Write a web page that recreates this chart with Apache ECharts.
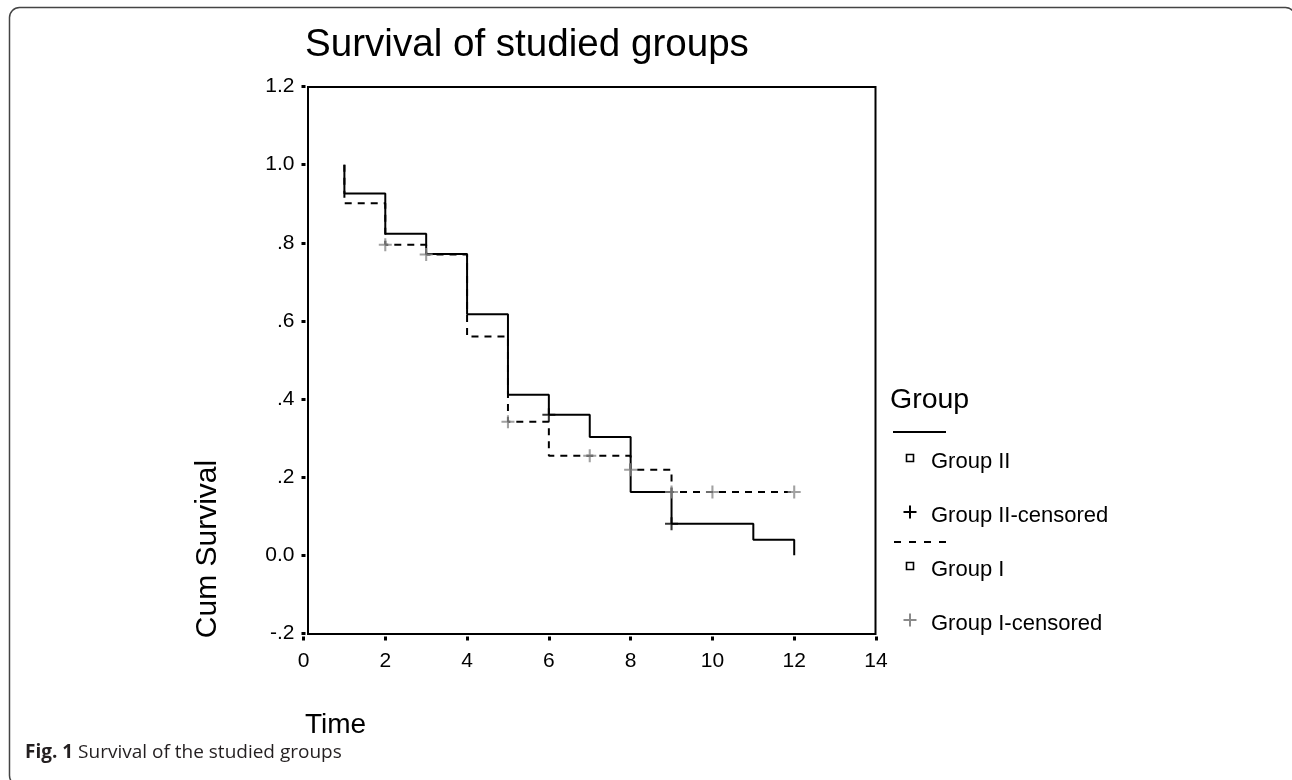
<!DOCTYPE html>
<html>
<head>
<meta charset="utf-8">
<script src="https://cdn.jsdelivr.net/npm/echarts@6/dist/echarts.min.js"></script>
<style>
html,body{margin:0;padding:0;background:#fff;}
#c{width:1292px;height:780px;}
</style>
</head>
<body>
<div id="c"></div>
<script>
// ---- data ----
const titleText = 'Survival of studied groups';
const xName = 'Time';
const yName = 'Cum Survival';
const caption = ['Fig. 1', 'Survival of the studied groups'];
const legendTitle = 'Group';
const legendLabels = ['Group II', 'Group II-censored', 'Group I', 'Group I-censored'];
const yTickLabels = ['-.2', '0.0', '.2', '.4', '.6', '.8', '1.0', '1.2'];

const timeII = [1, 1, 2, 3, 4, 5, 6, 7, 8, 9, 11, 12];
const survII = [1.0, 0.926, 0.823, 0.771, 0.617, 0.411, 0.360, 0.303, 0.162, 0.081, 0.040, 0];
const timeI = [1, 1, 2, 3, 4, 5, 6, 8, 9, 12];
const survI = [1.0, 0.901, 0.795, 0.770, 0.560, 0.342, 0.255, 0.219, 0.162, 0.162];
const censTimeII = [6, 9];
const censSurvII = [0.360, 0.081];
const censTimeI = [2, 3, 5, 7, 8, 9, 10, 12];
const censSurvI = [0.795, 0.770, 0.342, 0.255, 0.219, 0.162, 0.162, 0.162];

// ---- layout ----
const FONT = '"Liberation Sans", Arial, sans-serif';
const G = {left: 303.5, right: 416, top: 86.5, bottom: 146.5};
const plusPath = 'path://M4.2,0H5.8V4.2H10V5.8H5.8V10H4.2V5.8H0V4.2H4.2Z';
const zip = (a, b) => a.map((v, i) => [v, b[i]]);

const chart = echarts.init(document.getElementById('c'));

function plus(cx, cy, color) {
  return [
    {type: 'line', shape: {x1: cx - 6.5, y1: cy, x2: cx + 6.5, y2: cy}, style: {stroke: color, lineWidth: 2}},
    {type: 'line', shape: {x1: cx, y1: cy - 6.5, x2: cx, y2: cy + 6.5}, style: {stroke: color, lineWidth: 2}}
  ];
}

const frameX0 = G.left + 4.5;
const frameX1 = 1292 - G.right - 0.5;
const frameY0 = G.top + 0.5;
const frameY1 = 780 - G.bottom + 0.5;

const graphics = [
  {type: 'rect', shape: {x: 9.5, y: 7.5, width: 1286, height: 778, r: 10}, style: {fill: null, stroke: '#444', lineWidth: 1.5}, silent: true},
  {type: 'rect', shape: {x: frameX0, y: frameY0, width: frameX1 - frameX0, height: frameY1 - frameY0}, style: {fill: null, stroke: '#000', lineWidth: 2}, z: 10},
  {type: 'text', x: 305, y: 45, style: {text: titleText, fontSize: 38.6, fontFamily: FONT, fill: '#000', align: 'left', verticalAlign: 'middle'}},
  {type: 'text', x: 208, y: 549, rotation: Math.PI / 2, style: {text: yName, fontSize: 30, fontFamily: FONT, fill: '#000', align: 'center', verticalAlign: 'middle'}},
  {type: 'text', x: 305, y: 725, style: {text: xName, fontSize: 28, fontFamily: FONT, fill: '#000', align: 'left', verticalAlign: 'middle'}},
  {type: 'text', x: 25, y: 753, style: {
    text: '{b|' + caption[0] + '} ' + caption[1],
    fontSize: 19, fontFamily: '"Open Sans", sans-serif', fill: '#231f20', align: 'left', verticalAlign: 'middle',
    rich: {b: {fontWeight: 'bold', fontSize: 19, fontFamily: '"Open Sans", sans-serif', fill: '#231f20'}}
  }},
  {type: 'text', x: 890, y: 400, style: {text: legendTitle, fontSize: 28.5, fontFamily: FONT, fill: '#000', align: 'left', verticalAlign: 'middle'}},
  {type: 'line', shape: {x1: 893, y1: 432, x2: 946, y2: 432}, style: {stroke: '#000', lineWidth: 2}},
  {type: 'rect', shape: {x: 906.5, y: 454.5, width: 7, height: 7}, style: {fill: '#fff', stroke: '#000', lineWidth: 1.6}},
  {type: 'text', x: 931, y: 462, style: {text: legendLabels[0], fontSize: 22, fontFamily: FONT, fill: '#000', align: 'left', verticalAlign: 'middle'}},
  ...plus(910, 512, '#000'),
  {type: 'text', x: 931, y: 516, style: {text: legendLabels[1], fontSize: 22, fontFamily: FONT, fill: '#000', align: 'left', verticalAlign: 'middle'}},
  {type: 'line', shape: {x1: 894, y1: 542, x2: 948, y2: 542}, style: {stroke: '#000', lineWidth: 2, lineDash: [7, 8]}},
  {type: 'rect', shape: {x: 906.5, y: 562.5, width: 7, height: 7}, style: {fill: '#fff', stroke: '#000', lineWidth: 1.6}},
  {type: 'text', x: 931, y: 570, style: {text: legendLabels[2], fontSize: 22, fontFamily: FONT, fill: '#000', align: 'left', verticalAlign: 'middle'}},
  ...plus(910, 620, '#8a8a8a'),
  {type: 'text', x: 931, y: 624, style: {text: legendLabels[3], fontSize: 22, fontFamily: FONT, fill: '#000', align: 'left', verticalAlign: 'middle'}}
];

chart.setOption({
  animation: false,
  backgroundColor: '#fff',
  grid: {left: G.left, right: G.right, top: G.top, bottom: G.bottom, containLabel: false},
  xAxis: {
    type: 'value', min: 0, max: 14, interval: 2, offset: 3,
    axisLine: {show: false, onZero: false}, splitLine: {show: false},
    axisTick: {show: true, length: 4, lineStyle: {color: '#000', width: 3}},
    axisLabel: {color: '#000', fontSize: 21, fontFamily: FONT, margin: 14}
  },
  yAxis: {
    type: 'value', min: -0.2, max: 1.2, interval: 0.2, offset: -2,
    axisLine: {show: false, onZero: false}, splitLine: {show: false},
    axisTick: {show: true, length: 4, lineStyle: {color: '#000', width: 3}},
    axisLabel: {
      color: '#000', fontSize: 21, fontFamily: FONT, margin: 11,
      formatter: v => yTickLabels[Math.round((v + 0.2) / 0.2)]
    }
  },
  series: [
    {name: 'Group I', type: 'line', step: 'end', data: zip(timeI, survI), showSymbol: false, symbol: 'none',
     lineStyle: {color: '#000', width: 2, type: [7, 6]}, z: 2},
    {name: 'Group II', type: 'line', step: 'end', data: zip(timeII, survII), showSymbol: false, symbol: 'none',
     lineStyle: {color: '#000', width: 2}, z: 3},
    {name: 'Group I-censored', type: 'scatter', data: zip(censTimeI, censSurvI), symbol: plusPath, symbolSize: 13,
     itemStyle: {color: '#8a8a8a'}, z: 5},
    {name: 'Group II-censored', type: 'scatter', data: zip(censTimeII, censSurvII), symbol: plusPath, symbolSize: 13,
     itemStyle: {color: '#000'}, z: 6}
  ],
  graphic: graphics
});
</script>
</body>
</html>
